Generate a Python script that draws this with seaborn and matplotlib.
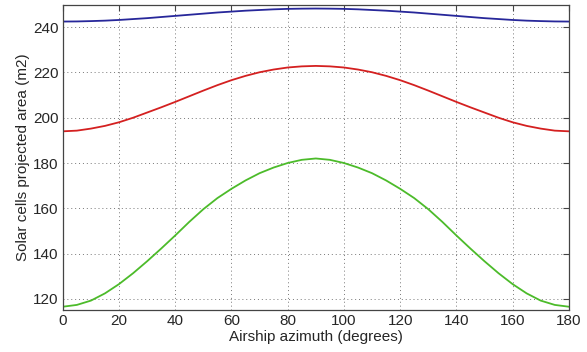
import numpy as np
import pandas as pd
import matplotlib
matplotlib.use("Agg")
import matplotlib.pyplot as plt
import seaborn as sns

azimuth = [0, 5, 10, 15, 20, 25, 30, 35, 40, 45, 50, 55, 60, 65, 70, 75, 80, 85, 90,
           95, 100, 105, 110, 115, 120, 125, 130, 135, 140, 145, 150, 155, 160, 165, 170, 175, 180]

area_blue = [242.5, 242.55, 242.7, 242.9, 243.2, 243.6, 244.0, 244.5, 245.0, 245.5, 246.0, 246.5,
             246.9, 247.3, 247.6, 247.9, 248.1, 248.2, 248.25,
             248.2, 248.1, 247.9, 247.6, 247.3, 246.9, 246.5, 246.0, 245.5, 245.0, 244.5, 244.0,
             243.6, 243.2, 242.9, 242.7, 242.55, 242.5]

area_red = [194.0, 194.3, 195.2, 196.4, 198.0, 200.0, 202.3, 204.6, 207.0, 209.5, 212.0, 214.4,
            216.6, 218.5, 220.1, 221.3, 222.2, 222.7, 222.9,
            222.7, 222.2, 221.3, 220.1, 218.5, 216.6, 214.4, 212.0, 209.5, 207.0, 204.6, 202.3,
            200.0, 198.0, 196.4, 195.2, 194.3, 194.0]

area_green = [116.5, 117.3, 119.2, 122.4, 126.5, 131.3, 136.6, 142.2, 148.0, 154.0, 159.6, 164.5,
              168.6, 172.3, 175.5, 178.0, 180.0, 181.4, 182.0,
              181.4, 180.0, 178.0, 175.5, 172.3, 168.6, 164.5, 159.6, 154.0, 148.0, 142.2, 136.6,
              131.3, 126.5, 122.4, 119.2, 117.3, 116.5]

sns.set_style("white")
plt.rcParams['font.family'] = ['Liberation Sans', 'DejaVu Sans']

df = pd.DataFrame({"azimuth": azimuth * 3,
                   "area": area_blue + area_red + area_green,
                   "case": ["blue"] * len(azimuth) + ["red"] * len(azimuth) + ["green"] * len(azimuth)})

fig = plt.figure(figsize=(5.87, 3.52), dpi=100)
ax = fig.add_axes([0.107, 0.119, 0.862, 0.868])

sns.lineplot(data=df, x="azimuth", y="area", hue="case",
             palette={"blue": "#27279a", "red": "#d42020", "green": "#4cbb2a"},
             linewidth=1.3, legend=False, ax=ax)

ax.set_xlim(0, 180)
ax.set_ylim(115, 250)
ax.set_xticks(np.arange(0, 181, 20))
ax.set_yticks(np.arange(120, 241, 20))
ax.grid(True, linestyle=(0, (1, 3)), color="#777777", linewidth=0.7)
ax.tick_params(direction="in", length=4, labelsize=11, color="#444444", pad=3)
ax.tick_params(top=True, right=True)
for s in ax.spines.values():
    s.set_color("#444444")
    s.set_linewidth(0.9)
ax.set_xlabel("Airship azimuth (degrees)", fontsize=11, labelpad=1)
ax.set_ylabel("Solar cells projected area (m2)", fontsize=11, labelpad=2)

fig.savefig("out.png", dpi=100)
